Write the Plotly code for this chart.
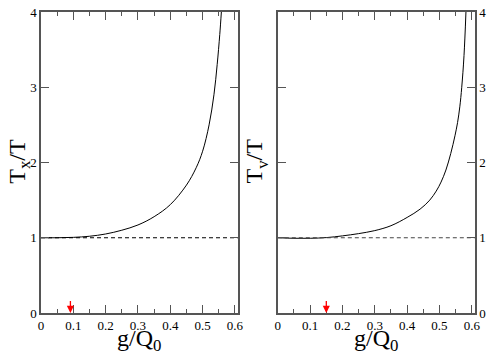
import plotly.graph_objects as go

# ---------- Data ----------
gx_left = [0.0, 0.05, 0.1, 0.15, 0.2, 0.25, 0.3, 0.35, 0.4, 0.45, 0.48, 0.5,
           0.52, 0.535, 0.545, 0.553, 0.558]
tx_left = [1.0, 1.0, 1.005, 1.02, 1.05, 1.10, 1.17, 1.28, 1.44, 1.70, 1.93, 2.15,
           2.5, 2.9, 3.3, 3.7, 4.0]

gx_right = [0.0, 0.05, 0.1, 0.15, 0.2, 0.25, 0.3, 0.35, 0.4, 0.44, 0.47, 0.49,
            0.505, 0.52, 0.535, 0.548, 0.556, 0.563, 0.569, 0.576, 0.582]
tv_right = [1.0, 0.993, 0.993, 1.002, 1.025, 1.055, 1.095, 1.16, 1.27, 1.38, 1.50, 1.62,
            1.74, 1.90, 2.12, 2.355, 2.53, 2.74, 3.0, 3.42, 4.0]

ref_x = [0.0, 0.61]
ref_y = [1.0, 1.0]

arrow_left_x = 0.091
arrow_right_x = 0.150
arrow_top_y = 0.18

x_ticks = [0, 0.1, 0.2, 0.3, 0.4, 0.5, 0.6]
x_labels = ["0", "0.1", "0.2", "0.3", "0.4", "0.5", "0.6"]
y_ticks = [0, 1, 2, 3, 4]
y_labels = ["0", "1", "2", "3", "4"]

FONT = "Liberation Serif"
FRAME = "#555555"

# plot area in pixels: left 41, right 479, top 5, bottom 313
L, R, T, B = 41, 12, 5, 44
PW = 491 - L - R
PH = 357 - T - B


def px(x):
    return (x - L) / PW


def py(y):
    return (357 - B - y) / PH


fig = go.Figure()

# ---------- Curves ----------
fig.add_trace(go.Scatter(x=gx_left, y=tx_left, mode="lines", line=dict(color="black", width=1, shape="spline"),
                         xaxis="x", yaxis="y", showlegend=False, hoverinfo="skip"))
fig.add_trace(go.Scatter(x=ref_x, y=ref_y, mode="lines", line=dict(color="black", width=1, dash="4px,3px"),
                         xaxis="x", yaxis="y", showlegend=False, hoverinfo="skip"))
fig.add_trace(go.Scatter(x=gx_right, y=tv_right, mode="lines", line=dict(color="black", width=1, shape="spline"),
                         xaxis="x2", yaxis="y2", showlegend=False, hoverinfo="skip"))
fig.add_trace(go.Scatter(x=ref_x, y=ref_y, mode="lines", line=dict(color="#444444", width=1, dash="4px,3px"),
                         xaxis="x2", yaxis="y2", showlegend=False, hoverinfo="skip"))

tick_font = dict(family=FONT, size=13, color="black")


def xaxis(domain, anchor):
    return dict(domain=domain, anchor=anchor, range=[0, 0.61], tickvals=x_ticks, ticktext=x_labels,
                ticks="inside", ticklen=8, tickwidth=1, tickcolor=FRAME,
                minor=dict(dtick=0.05, tick0=0, ticks="inside", ticklen=4, tickwidth=1, tickcolor=FRAME, showgrid=False),
                showline=True, linecolor=FRAME, linewidth=1.5, mirror="allticks",
                showgrid=False, zeroline=False, ticklabeloverflow="allow", tickfont=tick_font)


def yaxis(anchor, side):
    return dict(domain=[0, 1], anchor=anchor, side=side, range=[0, 4], tickvals=y_ticks, ticktext=y_labels,
                ticks="inside", ticklen=8, tickwidth=1, tickcolor=FRAME,
                showline=True, linecolor=FRAME, linewidth=1.5, mirror="allticks",
                showgrid=False, zeroline=False, ticklabeloverflow="allow", tickfont=tick_font)


title_font = dict(family=FONT, size=24, color="black")

fig.update_layout(
    width=491, height=357,
    margin=dict(l=L, r=R, t=T, b=B),
    font=dict(family=FONT, size=13, color="black"),
    paper_bgcolor="white", plot_bgcolor="white",
    xaxis=xaxis([px(41), px(240)], "y"),
    yaxis=yaxis("x", "left"),
    xaxis2=xaxis([px(280), px(479)], "y2"),
    yaxis2=yaxis("x2", "right"),
    annotations=[
        dict(x=arrow_left_x, y=0, ax=arrow_left_x, ay=arrow_top_y, xref="x", yref="y", axref="x", ayref="y",
             showarrow=True, arrowhead=2, arrowsize=1.1, arrowwidth=1.3, arrowcolor="red", text=""),
        dict(x=arrow_right_x, y=0, ax=arrow_right_x, ay=arrow_top_y, xref="x2", yref="y2", axref="x2", ayref="y2",
             showarrow=True, arrowhead=2, arrowsize=1.1, arrowwidth=1.3, arrowcolor="red", text=""),
        dict(text="T<sub>x</sub>/T", x=px(18), y=py(158), xref="paper", yref="paper", xanchor="center",
             yanchor="middle", textangle=-90, showarrow=False, font=title_font),
        dict(text="T<sub>v</sub>/T", x=px(258), y=py(158), xref="paper", yref="paper", xanchor="center",
             yanchor="middle", textangle=-90, showarrow=False, font=title_font),
        dict(text="g/Q<sub>0</sub>", x=px(140), y=py(341), xref="paper", yref="paper",
             xanchor="center", yanchor="middle", showarrow=False, font=title_font),
        dict(text="g/Q<sub>0</sub>", x=px(379), y=py(341), xref="paper", yref="paper",
             xanchor="center", yanchor="middle", showarrow=False, font=title_font),
    ],
)

# the page's default body margin would shift the figure by 8px
fig.write_html("out.html", config=dict(displayModeBar=False),
               post_script="document.body.style.margin = '0';")
